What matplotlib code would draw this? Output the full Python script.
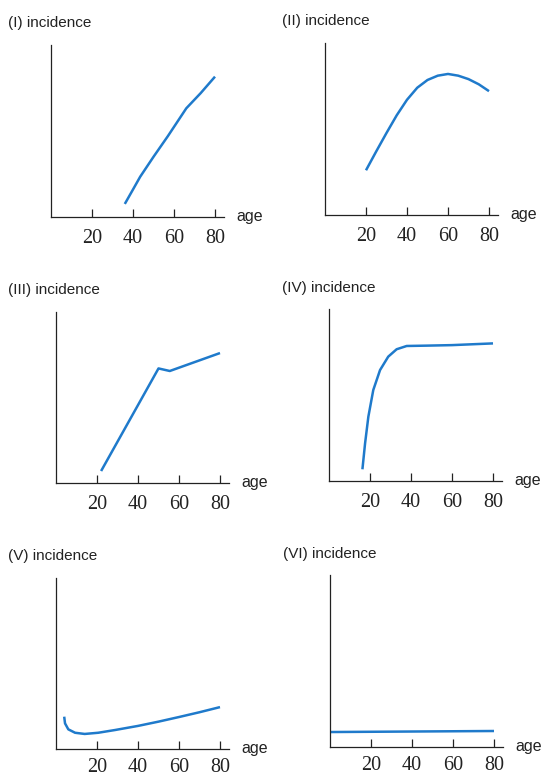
import matplotlib
matplotlib.use("Agg")
import matplotlib.pyplot as plt

# ---- data ----
titles = ["(I) incidence", "(II) incidence", "(III) incidence",
          "(IV) incidence", "(V) incidence", "(VI) incidence"]
xlabel = "age"
tick_values = [20, 40, 60, 80]
tick_labels = ["20", "40", "60", "80"]

ages_I = [36, 40, 43.5, 50, 57, 66, 73, 80]
inc_I = [0.076, 0.16, 0.234, 0.35, 0.47, 0.632, 0.72, 0.816]

ages_II = [20, 25, 30, 35, 40, 45, 50, 55, 60, 65, 70, 75, 80]
inc_II = [0.26, 0.37, 0.477, 0.58, 0.67, 0.74, 0.785, 0.81, 0.82, 0.81, 0.79, 0.76, 0.72]

ages_III = [22, 50, 55.5, 80]
inc_III = [0.07, 0.67, 0.655, 0.76]

ages_IV = [16.3, 17.6, 19.2, 21.6, 24.9, 28.9, 33, 37.9, 47.7, 60, 80]
inc_IV = [0.068, 0.219, 0.374, 0.529, 0.645, 0.723, 0.766, 0.785, 0.787, 0.79, 0.80]

ages_V = [4, 4.4, 6, 9.3, 14, 20.6, 28.8, 40, 50, 60, 70, 80]
inc_V = [0.189, 0.15, 0.115, 0.095, 0.088, 0.095, 0.111, 0.135, 0.16, 0.187, 0.215, 0.245]

ages_VI = [0, 80]
inc_VI = [0.087, 0.093]

series = [(ages_I, inc_I), (ages_II, inc_II), (ages_III, inc_III),
          (ages_IV, inc_IV), (ages_V, inc_V), (ages_VI, inc_VI)]

# ---- layout (pixels) ----
W, H = 542, 777
DPI = 100
# (left, x-axis y, top, title x, title baseline y, tick label pad)
boxes = [
    (51, 217, 45, 8, 27, 8.5),
    (325, 215, 43, 282, 25, 8.5),
    (56, 483, 312, 8, 294, 8.5),
    (329, 481, 309, 282, 292, 8.5),
    (56, 749, 578, 8, 560, 6.5),
    (330, 747, 575, 283, 558, 6.5),
]
AX_W = 173

sans = ["Liberation Sans", "DejaVu Sans"]
serif = ["Liberation Serif", "DejaVu Serif"]
blue = "#1f7acb"
ink = "#222222"

fig = plt.figure(figsize=(W / DPI, H / DPI), dpi=DPI)

for (x, y), (left, xb, top, tx, ty, pad), title in zip(series, boxes, titles):
    ax = fig.add_axes([left / W, 1 - xb / H, AX_W / W, (xb - top) / H])
    ax.plot(x, y, color=blue, lw=1.8, solid_capstyle="butt",
            solid_joinstyle="round")
    ax.set_xlim(0, AX_W / 2.05)
    ax.set_ylim(0, 1)
    for s in ("top", "right"):
        ax.spines[s].set_visible(False)
    for s in ("left", "bottom"):
        ax.spines[s].set_linewidth(0.9)
        ax.spines[s].set_color(ink)
    ax.set_yticks([])
    ax.set_xticks(tick_values)
    ax.set_xticklabels(tick_labels, family=serif, fontsize=14.5, color=ink)
    ax.tick_params(axis="x", direction="in", length=5.5, width=0.9,
                   pad=pad, color=ink)
    ax.patch.set_visible(False)
    ax.text(1 + 12 / AX_W, -4 / (xb - top), xlabel, transform=ax.transAxes,
            ha="left", va="baseline", family=sans, fontsize=11.5, color=ink)
    fig.text(tx / W, 1 - ty / H, title, ha="left", va="baseline",
             family=sans, fontsize=11, color=ink)

fig.savefig("out.png", dpi=DPI)
